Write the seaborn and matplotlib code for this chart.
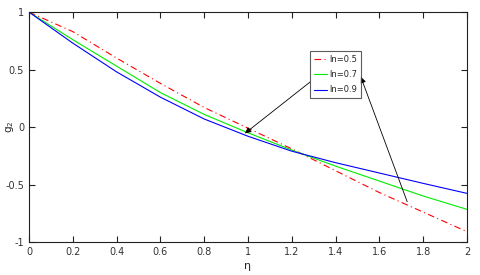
import matplotlib
matplotlib.use("Agg")
import matplotlib.pyplot as plt
import seaborn as sns
import pandas as pd

eta = [0.0, 0.2, 0.4, 0.6, 0.8, 1.0, 1.2, 1.4, 1.6, 1.8, 2.0]
g_05 = [1.0, 0.83, 0.60, 0.38, 0.17, -0.01, -0.19, -0.38, -0.57, -0.74, -0.91]
g_07 = [1.0, 0.76, 0.53, 0.30, 0.11, -0.05, -0.20, -0.34, -0.47, -0.60, -0.716]
g_09 = [1.0, 0.73, 0.48, 0.26, 0.07, -0.08, -0.21, -0.31, -0.40, -0.49, -0.577]
labels = ["ln=0.5", "ln=0.7", "ln=0.9"]
xticks = [0, 0.2, 0.4, 0.6, 0.8, 1, 1.2, 1.4, 1.6, 1.8, 2]
xticklabels = ["0", "0.2", "0.4", "0.6", "0.8", "1", "1.2", "1.4", "1.6", "1.8", "2"]
yticks = [-1, -0.5, 0, 0.5, 1]
yticklabels = ["-1", "-0.5", "0", "0.5", "1"]

df = pd.DataFrame({
    "eta": eta * 3,
    "g": g_05 + g_07 + g_09,
    "series": [labels[0]] * len(eta) + [labels[1]] * len(eta) + [labels[2]] * len(eta),
})

sns.set_style("white")
plt.rcParams['font.family'] = ['Liberation Sans Narrow', 'DejaVu Sans']

fig = plt.figure(figsize=(4.8, 2.75), dpi=100)
ax = fig.add_axes([0.0604, 0.12, 0.9125, 0.836])

palette = {labels[0]: "#ff0000", labels[1]: "#00ee00", labels[2]: "#0000ff"}
sns.lineplot(data=df, x="eta", y="g", hue="series", palette=palette,
             style="series", dashes={labels[0]: (6, 3, 1, 3), labels[1]: "", labels[2]: ""},
             linewidth=0.8, ax=ax, legend=True)

ax.set_xlim(0, 2)
ax.set_ylim(-1, 1)
ax.set_xticks(xticks)
ax.set_xticklabels(xticklabels)
ax.set_yticks(yticks)
ax.set_yticklabels(yticklabels)
ax.tick_params(direction="in", length=4, width=0.8, labelsize=7, top=True, right=True,
               bottom=True, left=True, colors="#222222", labelcolor="#333333")
for s in ax.spines.values():
    s.set_visible(True)
    s.set_color("#222222")
    s.set_linewidth(0.8)
ax.set_xlabel("η", fontsize=8, labelpad=3)
ax.set_ylabel(r"g$_2$", fontsize=7.5)
ax.yaxis.set_label_coords(-0.03, 0.5)

leg = ax.legend(loc="upper left", bbox_to_anchor=(0.641, 0.83), fontsize=6,
                frameon=True, fancybox=False, edgecolor="#333333", handlelength=1.6,
                handletextpad=0.3, borderpad=0.45, labelspacing=0.75, borderaxespad=0)
leg.get_frame().set_linewidth(0.8)

arrow_from = [(1.283, 0.391), (1.727, -0.65)]
arrow_to = [(0.986, -0.055), (1.515, 0.437)]
for (x0, y0), (x1, y1) in zip(arrow_from, arrow_to):
    ax.annotate("", xy=(x1, y1), xytext=(x0, y0),
                arrowprops=dict(arrowstyle="-|>", color="black", lw=0.6,
                                mutation_scale=9, shrinkA=0, shrinkB=0), zorder=5)

fig.savefig("out.png", dpi=100, facecolor="white")
